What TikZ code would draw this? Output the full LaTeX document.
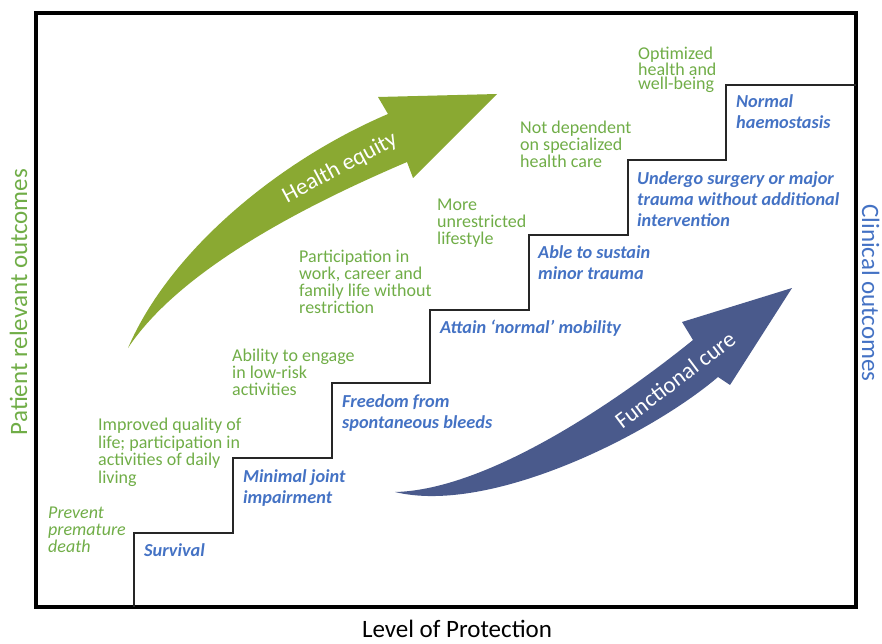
\documentclass[tikz,border=0pt]{standalone}
\usepackage{fontspec}
\setmainfont{Carlito}
\definecolor{textgreen}{HTML}{70AD47}
\definecolor{textblue}{HTML}{4472C4}
\definecolor{arrowgreen}{HTML}{8AA932}
\definecolor{arrowblue}{HTML}{4A5A8C}
\tikzset{
  outcome/.style={anchor=base west, align=left, inner sep=0pt, text=textgreen,
    font=\fontsize{18}{17}\selectfont},
  clinical/.style={anchor=base west, align=left, inner sep=0pt, text=textblue,
    font=\fontsize{18.3}{21}\selectfont\bfseries\itshape},
  axislabel/.style={anchor=base, inner sep=0pt, font=\fontsize{25}{28}\selectfont},
  arrowlabel/.style={inner sep=0pt, text=white, font=\fontsize{23}{26}\selectfont},
  stair/.style={line width=1.2pt, black!85}
}

\begin{document}
\begin{tikzpicture}[x=1pt,y=-1pt]
\useasboundingbox (0,0) rectangle (882,644);

% frame and steps
\draw[line width=4pt] (36,13) rectangle (856,607);
\draw[stair] (134,607) |- (233,533) |- (332,458) |- (430,383) |- (529,310) |- (628,235) |- (726,160) |- (856,85);

% big arrows
\fill[arrowgreen] (128,348) .. controls (170,250) and (280,160) .. (388,114)
  -- (378,97) -- (497,94) -- (413,178) -- (407,162)
  .. controls (330,195) and (185,262) .. (128,348) -- cycle;
\node[arrowlabel, rotate=28] (equity) at (340,168) {Health equity};

\fill[arrowblue] (395,492) .. controls (480,490) and (600,415) .. (693,340)
  -- (682,322) -- (792,288) -- (730,385) -- (718,377)
  .. controls (650,435) and (490,515) .. (395,492) -- cycle;
\node[arrowlabel, rotate=37] (cure) at (675,380) {Functional cure};

% patient relevant outcomes (placed by last baseline)
\node[outcome, font=\fontsize{18}{17}\selectfont\itshape] (death) at (48,552) {Prevent\\premature\\death};
\node[outcome, font=\fontsize{18}{17.5}\selectfont] (quality) at (98,483) {Improved quality of\\life; participation in\\activities of daily\\living};
\node[outcome] (lowrisk) at (232,395) {Ability to engage\\in low-risk\\activities};
\node[outcome] (work) at (299,313) {Participation in\\work, career and\\family life without\\restriction};
\node[outcome] (lifestyle) at (437,244) {More\\unrestricted\\lifestyle};
\node[outcome] (care) at (520,168) {Not dependent\\on specialized\\health care};
\node[outcome, font=\fontsize{18}{14.5}\selectfont] (wellbeing) at (638,90) {Optimized\\health and\\well-being};

% clinical outcomes (placed by last baseline)
\node[clinical] (survival) at (144,556) {Survival};
\node[clinical] (joint) at (243,503) {Minimal joint\\impairment};
\node[clinical] (bleeds) at (342,428) {Freedom from\\spontaneous bleeds};
\node[clinical] (mobility) at (440,333) {Attain ‘normal’ mobility};
\node[clinical] (minor) at (538,279) {Able to sustain\\minor trauma};
\node[clinical] (surgery) at (637,226) {Undergo surgery or major\\trauma without additional\\intervention};
\node[clinical] (haemo) at (736,129) {Normal\\haemostasis};

% axis labels
\node[axislabel, text=textgreen, rotate=90] (patient) at (27,302) {Patient relevant outcomes};
\node[axislabel, text=textblue, rotate=-90] (clin) at (862,293) {Clinical outcomes};
\node[axislabel] (level) at (457,637) {Level of Protection};
\end{tikzpicture}
\end{document}
